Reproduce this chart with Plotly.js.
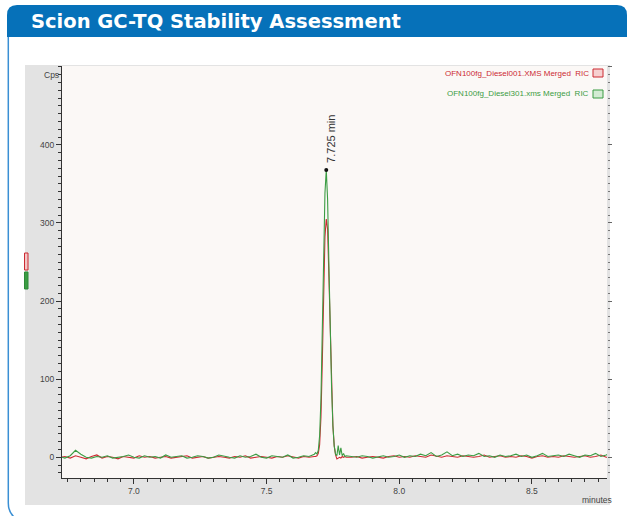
<!DOCTYPE html>
<html>
<head>
<meta charset="utf-8">
<script src="https://cdn.plot.ly/plotly-3.0.1.min.js"></script>
<style>html,body{margin:0;padding:0;background:#fff;}#chart{width:627px;height:516px;}</style>
</head>
<body>
<div id="chart"></div>
<script>
// ---- data ----
var timeBefore = [6.72,6.74,6.76,6.78,6.80,6.82,6.84,6.86,6.88,6.90,6.92,6.94,6.96,6.98,7.00,7.02,7.04,7.06,7.08,7.10,7.12,7.14,7.16,7.18,7.20,7.22,7.24,7.26,7.28,7.30,7.32,7.34,7.36,7.38,7.40,7.42,7.44,7.46,7.48,7.50,7.52,7.54,7.56,7.58,7.60,7.62,7.64,7.66,7.68];
var timePeak = [7.685,7.69,7.695,7.70,7.705,7.71,7.715,7.72,7.725,7.73,7.735,7.74,7.745,7.75,7.755,7.76,7.765,7.77,7.775,7.78,7.785,7.79,7.795,7.80];
var timeAfter = [7.82,7.84,7.86,7.88,7.90,7.92,7.94,7.96,7.98,8.00,8.02,8.04,8.06,8.08,8.10,8.12,8.14,8.16,8.18,8.20,8.22,8.24,8.26,8.28,8.30,8.32,8.34,8.36,8.38,8.40,8.42,8.44,8.46,8.48,8.50,8.52,8.54,8.56,8.58,8.60,8.62,8.64,8.66,8.68,8.70,8.72,8.74,8.76,8.78,8.80];

var green301Before = [1,-1,2,9,4,0,-1,1,0,2,-1,0,1,3,0,-1,2,0,1,-1,3,0,1,2,-1,0,2,1,-1,0,3,1,0,-1,2,0,1,4,0,-1,2,1,0,3,-1,0,2,1,4];
var green301Peak = [6,4,9,28,75,155,255,338,368,330,245,160,90,40,14,4,2,15,3,12,2,5,1,2];
var green301After = [1,0,2,1,-1,1,2,0,1,3,0,2,1,4,2,6,1,3,7,2,4,1,3,2,5,1,2,0,3,1,2,4,1,3,0,2,5,1,2,3,1,4,2,0,3,2,5,1,3,6];

var red001Before = [0,1,-1,2,0,-2,1,3,-1,1,0,-2,1,0,-1,2,0,1,-1,0,1,-1,0,1,2,-1,0,1,-1,0,1,0,-1,1,0,2,-1,0,1,0,-1,1,0,2,0,-1,1,0,1];
var red001Peak = [1,2,5,16,52,122,212,282,305,292,230,155,88,40,15,3,-2,-1,0,-1,1,0,1,0];
var red001After = [0,1,-1,0,1,0,-1,1,2,0,1,0,2,1,0,3,1,0,2,1,0,2,1,0,1,3,0,1,2,0,1,0,2,1,-1,1,2,0,1,0,2,1,0,1,2,0,1,3,0,1];

var peakTime = [7.725];
var peakTop = [368];
var peakLabel = ["7.725 min"];

var xTickStart = 7.0, xTickStep = 0.5;
var yTickValues = [0, 100, 200, 300, 400];
var seriesNames = ["OFN100fg_Diesel001.XMS Merged  RIC", "OFN100fg_Diesel301.xms Merged  RIC"];
var titleText = "Scion GC-TQ Stability Assessment";

// ---- build ----
var time = timeBefore.concat(timePeak, timeAfter);
var green301 = green301Before.concat(green301Peak, green301After);
var red001 = red001Before.concat(red001Peak, red001After);

var RED = '#cc2b33', GREEN = '#3b9c43';

var traces = [
  {x: time, y: red001, type: 'scatter', mode: 'lines', line: {color: RED, width: 1.1}, name: seriesNames[0], hoverinfo: 'skip'},
  {x: time, y: green301, type: 'scatter', mode: 'lines', line: {color: GREEN, width: 1.1}, name: seriesNames[1], hoverinfo: 'skip'},
  {x: peakTime, y: peakTop, type: 'scatter', mode: 'markers', marker: {color: '#111', size: 4}, hoverinfo: 'skip'},
  {x: [], y: [], type: 'scatter', yaxis: 'y2', hoverinfo: 'skip'}
];

// pixel -> paper helpers for decorations (frame, panels)
var L = 62, R = 20, T = 66, B = 38, W = 627, H = 516;
var PW = W - L - R, PH = H - T - B;
function PX(x){ return (x - L) / PW; }
function PY(y){ return (H - B - y) / PH; }
function rect(x0, y0, x1, y1, fill, lc, lw, layer){
  return {type: 'rect', xref: 'paper', yref: 'paper', x0: PX(x0), x1: PX(x1), y0: PY(y1), y1: PY(y0),
    fillcolor: fill, line: {color: lc || 'rgba(0,0,0,0)', width: lw || 0}, layer: layer || 'below'};
}
function P(x, y){ return PX(x) + ',' + PY(y); }

var headerPath = 'M' + P(7, 37) + ' L' + P(7, 15) + ' Q' + P(7, 5) + ' ' + P(17, 5) +
  ' L' + P(617, 5) + ' Q' + P(627, 5) + ' ' + P(627, 15) + ' L' + P(627, 37) + ' Z';
var borderPath = 'M' + P(8.3, 37) + ' L' + P(8.3, 503) + ' Q' + P(8.3, 512) + ' ' + P(14, 517);

var shapes = [
  {type: 'path', xref: 'paper', yref: 'paper', path: headerPath, fillcolor: '#0671b9', line: {width: 0}, layer: 'below'},
  {type: 'path', xref: 'paper', yref: 'paper', path: borderPath, line: {color: '#3a8fd4', width: 1.5}, layer: 'below'},
  rect(25, 65, 610, 505, '#e3e3e3'),
  rect(62, 66, 607, 478, '#fbf8f6'),
  rect(24.5, 253, 28, 270, '#f3c6c6', '#cc2b33', 1),
  rect(24.5, 272, 28, 289, '#3b9c43', '#2d8a38', 1),
  rect(593, 69, 603, 77, '#f6d0d0', RED, 1, 'above'),
  rect(593, 90, 603, 98, '#d3ebd3', GREEN, 1, 'above')
];

var tickFont = {family: 'Liberation Sans, Arial, sans-serif', size: 8.5, color: '#444'};
var yRange = [-26.5, 501];

var layout = {
  width: W, height: H,
  margin: {l: L, r: R, t: T, b: B, pad: 0},
  paper_bgcolor: '#ffffff',
  plot_bgcolor: 'rgba(0,0,0,0)',
  showlegend: false,
  title: {text: titleText, xref: 'container', yref: 'container', x: 31 / W, xanchor: 'left', y: 1 - 21 / H, yanchor: 'middle',
    font: {family: 'DejaVu Sans, Verdana, sans-serif', size: 19.5, color: '#ffffff', weight: 'bold'}},
  xaxis: {range: [6.729, 8.783], showgrid: false, zeroline: false, showline: true, linecolor: '#333', linewidth: 1,
    ticks: 'outside', ticklen: 5, tickcolor: '#333', tick0: xTickStart, dtick: xTickStep, tickformat: '.1f',
    tickfont: tickFont, minor: {dtick: 0.05, ticks: 'outside', ticklen: 3, tickcolor: '#333', showgrid: false}, fixedrange: true},
  yaxis: {range: yRange, showgrid: false, zeroline: false, showline: true, linecolor: '#333', linewidth: 1,
    ticks: 'outside', ticklen: 5, tickcolor: '#333', tickmode: 'array', tickvals: yTickValues,
    tickfont: tickFont, minor: {tickmode: 'linear', tick0: 0, dtick: 10, ticks: 'outside', ticklen: 3, tickcolor: '#333', showgrid: false}, fixedrange: true},
  yaxis2: {range: yRange, overlaying: 'y', side: 'right', anchor: 'x', showgrid: false, zeroline: false, showline: false,
    showticklabels: false, ticks: 'outside', ticklen: 4, tickcolor: '#666', tick0: 0, dtick: 100,
    minor: {dtick: 10, ticks: 'outside', ticklen: 2, tickcolor: '#777', showgrid: false}, fixedrange: true},
  shapes: shapes,
  annotations: [
    {text: seriesNames[0], xref: 'paper', yref: 'paper', x: PX(591), y: PY(73), xanchor: 'right', yanchor: 'middle', showarrow: false,
      font: {family: 'Liberation Sans, Arial, sans-serif', size: 8, color: RED}},
    {text: seriesNames[1], xref: 'paper', yref: 'paper', x: PX(591), y: PY(94), xanchor: 'right', yanchor: 'middle', showarrow: false,
      font: {family: 'Liberation Sans, Arial, sans-serif', size: 8, color: GREEN}},
    {text: peakLabel[0], xref: 'x', yref: 'y', x: 7.740, y: 408, textangle: -90, xanchor: 'center', yanchor: 'middle', showarrow: false,
      font: {family: 'Liberation Sans, Arial, sans-serif', size: 11, color: '#333'}},
    {text: 'Cps', xref: 'paper', yref: 'paper', x: PX(61), y: PY(75), xanchor: 'right', yanchor: 'middle', showarrow: false,
      font: {family: 'Liberation Sans, Arial, sans-serif', size: 8.5, color: '#444'}},
    {text: 'minutes', xref: 'paper', yref: 'paper', x: PX(597), y: PY(500), xanchor: 'center', yanchor: 'middle', showarrow: false,
      font: {family: 'Liberation Sans, Arial, sans-serif', size: 8.5, color: '#444'}}
  ]
};

Plotly.newPlot('chart', traces, layout, {displayModeBar: false, staticPlot: true});
</script>
</body>
</html>
